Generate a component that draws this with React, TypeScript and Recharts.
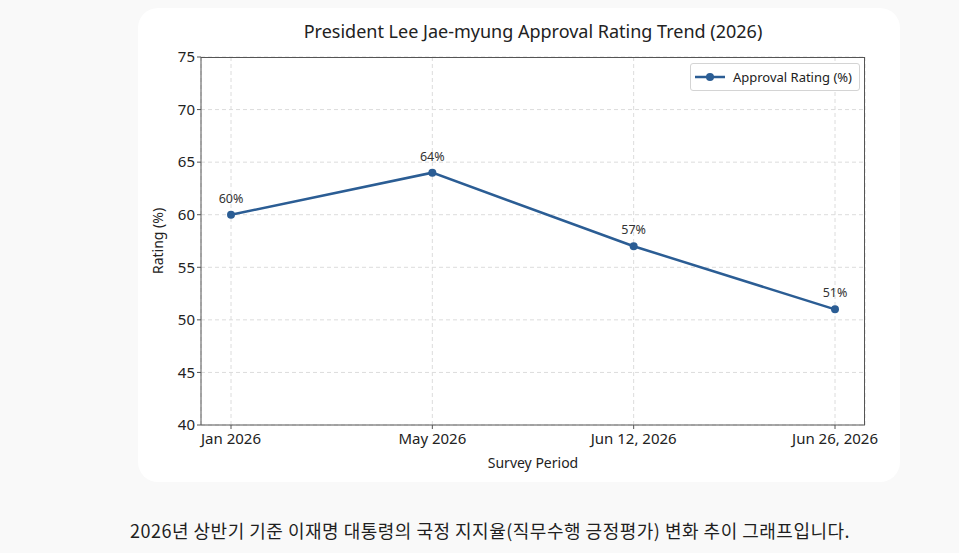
import React from 'react';
import {
  CartesianGrid,
  LabelList,
  Line,
  LineChart,
  XAxis,
  YAxis,
} from 'recharts';

const periods = ['Jan 2026', 'May 2026', 'Jun 12, 2026', 'Jun 26, 2026'];
const approval = [60, 64, 57, 51];
const yTicks = [40, 45, 50, 55, 60, 65, 70, 75];

const seriesName = 'Approval Rating (%)';
const caption =
  '2026년 상반기 기준 이재명 대통령의 국정 지지율(직무수행 긍정평가) 변화 추이 그래프입니다.';

const data = periods.map((period, i) => ({ period, approval: approval[i] }));

const LINE = '#2b5d94';
const AXIS = '#555';
const FONT = '"Noto Sans", "Open Sans", sans-serif';

// plot area inside the card (chart margins below must agree)
const PLOT = { left: 63, top: 49, width: 664, height: 368 };

function LegendBox() {
  return (
    <div
      style={{
        position: 'absolute',
        right: 762 - PLOT.left - PLOT.width + 5,
        top: PLOT.top + 6,
        display: 'flex',
        alignItems: 'center',
        border: '1px solid #d4d4d4',
        borderRadius: 3,
        background: '#fff',
        padding: '4px 7px 4px 4px',
        fontFamily: FONT,
        fontSize: 13,
        color: '#222',
      }}
    >
      <svg width={30} height={10} style={{ marginRight: 8 }}>
        <line x1={0} y1={5} x2={30} y2={5} stroke={LINE} strokeWidth={2.5} />
        <circle cx={15} cy={5} r={4} fill={LINE} />
      </svg>
      {seriesName}
    </div>
  );
}

export default function App() {
  return (
    <div
      style={{
        position: 'absolute',
        left: 0,
        top: 0,
        width: 959,
        height: 553,
        background: '#f9f9f9',
        overflow: 'hidden',
      }}
    >
      <div
        style={{
          position: 'absolute',
          left: 138,
          top: 8,
          width: 762,
          height: 474,
          background: '#fff',
          borderRadius: 20,
        }}
      >
        <div
          style={{
            position: 'absolute',
            left: PLOT.left,
            top: 11,
            width: PLOT.width,
            textAlign: 'center',
            fontFamily: FONT,
            fontSize: 18,
            color: '#222',
          }}
        >
          President Lee Jae-myung Approval Rating Trend (2026)
        </div>
        <LineChart
          width={762}
          height={474}
          data={data}
          margin={{ top: PLOT.top, right: 35, left: 0, bottom: 0 }}
        >
          <CartesianGrid stroke="#dcdcdc" strokeDasharray="4 3" />
          <XAxis
            dataKey="period"
            padding={{ left: 30, right: 30 }}
            height={57}
            stroke={AXIS}
            tickSize={4}
            tick={{ fill: '#222', fontSize: 15, fontFamily: FONT }}
            tickMargin={4}
            label={{
              value: 'Survey Period',
              position: 'insideBottom',
              offset: 14,
              fill: '#222',
              fontSize: 14,
              fontFamily: FONT,
            }}
          />
          <YAxis
            domain={[40, 75]}
            ticks={yTicks}
            width={PLOT.left}
            stroke={AXIS}
            tickSize={4}
            tick={{ fill: '#222', fontSize: 15, fontFamily: FONT }}
            label={{
              value: 'Rating (%)',
              angle: -90,
              position: 'insideLeft',
              offset: 20,
              style: { textAnchor: 'middle' },
              fill: '#222',
              fontSize: 14,
              fontFamily: FONT,
            }}
          />
          <Line
            type="linear"
            dataKey="approval"
            name={seriesName}
            stroke={LINE}
            strokeWidth={2.5}
            dot={{ r: 4, fill: LINE, stroke: LINE, strokeWidth: 0 }}
            activeDot={false}
            isAnimationActive={false}
          >
            <LabelList
              dataKey="approval"
              position="top"
              offset={12}
              formatter={(v: number) => `${v}%`}
              style={{ fill: '#333', fontSize: 12.5, fontFamily: FONT }}
            />
          </Line>
        </LineChart>
        {/* top and right spines of the plot frame */}
        <div
          style={{
            position: 'absolute',
            left: PLOT.left,
            top: PLOT.top,
            width: PLOT.width,
            height: PLOT.height,
            borderTop: `1px solid ${AXIS}`,
            borderRight: `1px solid ${AXIS}`,
            boxSizing: 'border-box',
            pointerEvents: 'none',
          }}
        />
        <LegendBox />
      </div>
      <div
        style={{
          position: 'absolute',
          left: 130,
          top: 517,
          fontFamily: '"Noto Sans CJK KR", sans-serif',
          fontSize: 18,
          lineHeight: '26px',
          letterSpacing: 0.5,
          color: '#1f1f1f',
          whiteSpace: 'nowrap',
        }}
      >
        {caption}
      </div>
    </div>
  );
}
